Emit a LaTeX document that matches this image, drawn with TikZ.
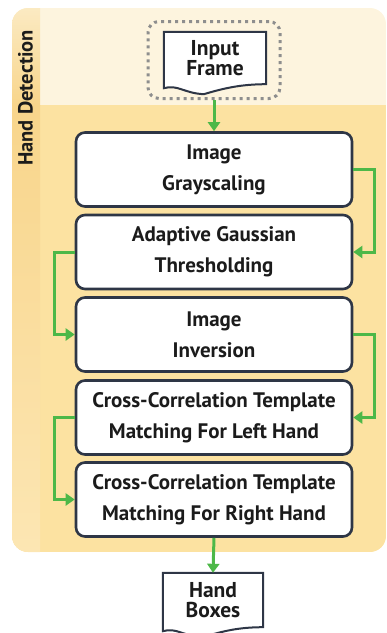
\documentclass[tikz,border=0pt]{standalone}
\usepackage{fontspec}
\setmainfont{PT Sans}
\usetikzlibrary{arrows.meta,calc,positioning}

\definecolor{paneltop}{HTML}{FDF4DE}
\definecolor{panelbody}{HTML}{FCE2A1}
\definecolor{stripA}{HTML}{FBEAC2}
\definecolor{stripB}{HTML}{F8D58B}
\definecolor{stripC}{HTML}{FCE6B3}
\definecolor{boxline}{HTML}{2E3646}
\definecolor{flowgreen}{HTML}{4DB848}
\definecolor{dotgray}{HTML}{8E8E8E}
\definecolor{ink}{HTML}{1B1B1B}

\tikzset{
  stepbox/.style={draw=boxline, line width=2.6pt, fill=white, rounded corners=9pt,
    minimum width=276pt, minimum height=74pt, align=center, text=ink,
    font=\fontsize{21}{31}\selectfont\bfseries},
  docnode/.style={minimum width=102pt, align=center, text=ink,
    font=\fontsize{21.5}{20.5}\selectfont\bfseries},
  docline/.style={draw=boxline, line width=2pt, fill=white},
  flow/.style={draw=flowgreen, line width=3pt,
    -{Triangle[length=9pt,width=12pt]}},
  dotframe/.style={draw=dotgray, line width=3pt, dash pattern=on 3pt off 4pt,
    rounded corners=11pt, minimum width=132pt, minimum height=77pt},
}

\begin{document}
\begin{tikzpicture}[x=1pt,y=-1pt]
\useasboundingbox (0,0) rectangle (387,633);

% background panel of the detection stage
\begin{scope}
  \clip[rounded corners=16pt] (12,8) rectangle (386,552);
  \fill[paneltop] (12,8) rectangle (387,105);
  \fill[panelbody] (12,105) rectangle (387,552);
  \shade[top color=stripA, bottom color=stripB] (12,8) rectangle (40,105);
  \shade[top color=stripB, bottom color=stripC] (12,105) rectangle (40,552);
\end{scope}
\node[rotate=90, text=ink, font=\fontsize{20.5}{20.5}\selectfont\bfseries]
  (stage) at (25.5,98) {Hand Detection};

% input document inside a dotted frame
\node[dotframe] (inwrap) at (214,60) {};
\node[docnode, minimum height=56pt] (inframe) at (215,60) {};
\path[docline] (inframe.north west) -- (inframe.north east)
  -- ($(inframe.south east)+(0,-4)$)
  .. controls +(-25,0) and +(20,-6) .. ($(inframe.south west)+(40,6)$)
  .. controls +(-20,-1) and +(14,-4) .. ($(inframe.south west)+(0,0)$) -- cycle;
\node[docnode] at ($(inframe)+(0,-2)$) {Input\\Frame};

% processing steps
\node[stepbox] (g1) at (214,169.5) {Image\\Grayscaling};
\node[stepbox] (g2) at (214,252)   {Adaptive Gaussian\\Thresholding};
\node[stepbox] (g3) at (214,334.5) {Image\\Inversion};
\node[stepbox] (g4) at (214,417.5) {Cross-Correlation Template\\Matching For Left Hand};
\node[stepbox] (g5) at (214,499.5) {Cross-Correlation Template\\Matching For Right Hand};

% output document
\node[docnode, minimum width=100pt, minimum height=56pt] (handboxes) at (213,601) {};
\path[docline] (handboxes.north west) -- (handboxes.north east)
  -- ($(handboxes.south east)+(0,-2)$)
  .. controls +(-25,0) and +(20,-6) .. ($(handboxes.south west)+(40,8)$)
  .. controls +(-20,-1) and +(14,-4) .. ($(handboxes.south west)+(0,2)$) -- cycle;
\node[docnode] at ($(handboxes)+(0,-1)$) {Hand\\Boxes};

% connectors
\draw[flow] (inwrap.south) -- (g1.north);
\draw[flow] (g1.east) -- ++(21,0) |- (g2.east);
\draw[flow] (g2.west) -- ++(-20,0) |- (g3.west);
\draw[flow] (g3.east) -- ++(21,0) |- (g4.east);
\draw[flow] (g4.west) -- ++(-20,0) |- (g5.west);
\draw[flow] (g5.south) -- (handboxes.north);
\end{tikzpicture}
\end{document}
